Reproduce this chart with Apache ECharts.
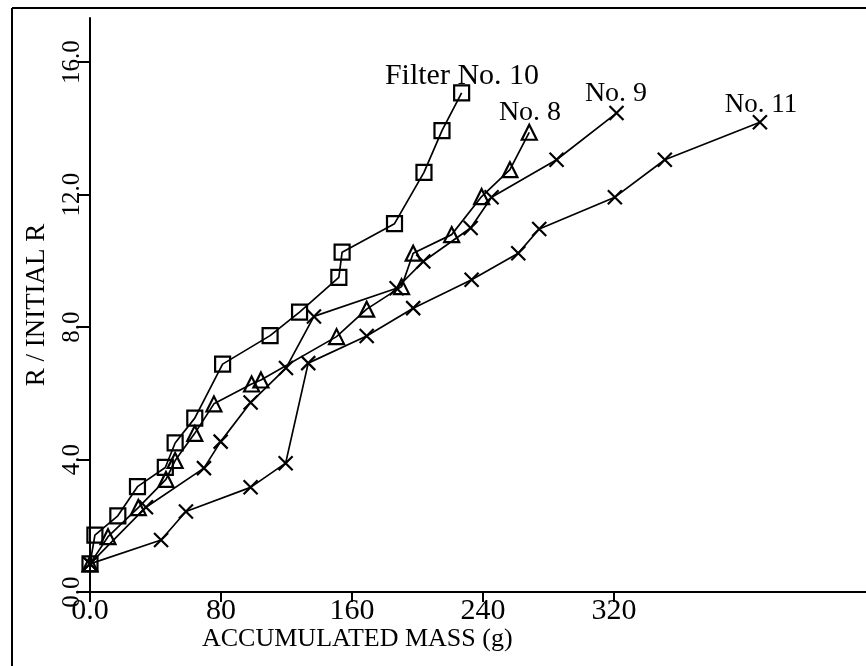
<!DOCTYPE html>
<html><head><meta charset="utf-8">
<script src="https://cdn.jsdelivr.net/npm/echarts@6/dist/echarts.min.js"></script>
<style>html,body{margin:0;padding:0;background:#fff}#c{width:866px;height:666px}</style>
</head><body><div id="c"></div>
<script>
var xTickValues = [0, 80, 160, 240, 320];
var xTicks = ['0.0', '80', '160', '240', '320'];
var yTickValues = [0, 4, 8, 12, 16];
var yTicks = ['0.0', '4.0', '8.0', '12.0', '16.0'];

var massNo10 = [0, 3, 17, 29, 46, 52, 64, 81, 110, 128, 152, 154, 186, 204, 215, 227];
var rNo10 = [0.85, 1.72, 2.3, 3.18, 3.76, 4.5, 5.25, 6.88, 7.74, 8.45, 9.5, 10.26, 11.12, 12.67, 13.93, 15.07];

var massNo8 = [0, 11, 29.5, 46.4, 52, 64, 75.7, 98.7, 104.4, 150.6, 169, 190.3, 197.4, 220.9, 239.2, 256.5, 268.3];
var rNo8 = [0.85, 1.67, 2.55, 3.4, 3.97, 4.79, 5.68, 6.28, 6.4, 7.71, 8.54, 9.22, 10.23, 10.79, 11.94, 12.75, 13.88];

var massNo9 = [0, 34.2, 69.6, 79.8, 98.1, 119.7, 136.8, 187.3, 203.6, 232.5, 245.3, 285, 321.6];
var rNo9 = [0.85, 2.56, 3.74, 4.54, 5.72, 6.76, 8.32, 9.17, 9.98, 10.99, 11.92, 13.05, 14.46];

var massNo11 = [0, 43.4, 58.6, 98.1, 119.5, 133.3, 169, 197.4, 233.1, 261.6, 274.4, 320.6, 351.1, 409.2];
var rNo11 = [0.85, 1.57, 2.43, 3.16, 3.89, 6.91, 7.73, 8.57, 9.43, 10.23, 10.96, 11.92, 13.05, 14.18];

var seriesNames = ['Filter No. 10', 'No. 8', 'No. 9', 'No. 11'];

function pairs(xs, ys) { return xs.map(function (x, i) { return [x, ys[i]]; }); }

var FONT = 'Liberation Serif';
var crossPath = 'path://M0,0L10,10M10,0L0,10';

function mkSeries(name, xs, ys, symbol, size) {
  return {
    name: name, type: 'line', data: pairs(xs, ys),
    symbol: symbol, symbolSize: size, showAllSymbol: true,
    lineStyle: { color: '#000', width: 1.7 },
    itemStyle: { color: 'rgba(0,0,0,0)', borderColor: '#000', borderWidth: 2.2 },
    emphasis: { disabled: true }, animation: false, z: 3
  };
}

function label(text, x, y, size) {
  return { type: 'text', x: x, y: y, z: 10,
    style: { text: text, fill: '#000', font: size + 'px "Liberation Serif"', align: 'center', verticalAlign: 'middle' } };
}

var chart = echarts.init(document.getElementById('c'), null, { renderer: 'canvas' });
chart.setOption({
  backgroundColor: '#fff',
  animation: false,
  grid: { left: 90, top: 18, width: 776, height: 574, containLabel: false },
  xAxis: {
    type: 'value', min: 0, max: 474,
    axisLine: { show: true, onZero: false, lineStyle: { color: '#000', width: 2 } },
    axisTick: { show: true, inside: false, length: 10, customValues: xTickValues, lineStyle: { color: '#000', width: 2 } },
    splitLine: { show: false },
    axisLabel: {
      color: '#000', fontFamily: FONT, fontSize: 30, margin: 4, customValues: xTickValues,
      formatter: function (v) { var i = xTickValues.indexOf(v); return i >= 0 ? xTicks[i] : ''; }
    },
    name: 'ACCUMULATED MASS (g)', nameLocation: 'start', nameGap: 0,
    nameTextStyle: { color: '#000', fontFamily: FONT, fontSize: 26, align: 'left', verticalAlign: 'top', padding: [34, 0, 0, 112] }
  },
  yAxis: {
    type: 'value', min: 0, max: 17.33,
    axisLine: { show: true, onZero: false, lineStyle: { color: '#000', width: 2 } },
    axisTick: { show: true, inside: false, length: 12, customValues: yTickValues, lineStyle: { color: '#000', width: 2 } },
    splitLine: { show: false },
    axisLabel: {
      color: '#000', fontFamily: FONT, fontSize: 25, margin: 5, rotate: 90, customValues: yTickValues,
      formatter: function (v) { var i = yTickValues.indexOf(v); return i >= 0 ? yTicks[i] : ''; }
    },
    name: 'R / INITIAL R', nameLocation: 'middle', nameGap: 40, nameRotate: 90,
    nameTextStyle: { color: '#000', fontFamily: FONT, fontSize: 27 }
  },
  series: [
    mkSeries(seriesNames[0], massNo10, rNo10, 'rect', 15),
    mkSeries(seriesNames[1], massNo8, rNo8, 'triangle', 15),
    mkSeries(seriesNames[2], massNo9, rNo9, crossPath, 14),
    mkSeries(seriesNames[3], massNo11, rNo11, crossPath, 14)
  ],
  graphic: [
    { type: 'line', shape: { x1: 12, y1: 8, x2: 12, y2: 666 }, style: { stroke: '#000', lineWidth: 2 } },
    { type: 'line', shape: { x1: 12, y1: 8, x2: 866, y2: 8 }, style: { stroke: '#000', lineWidth: 2 } },
    label(seriesNames[0], 462, 76, 30),
    label(seriesNames[1], 530, 113, 28),
    label(seriesNames[2], 616, 94, 28),
    label(seriesNames[3], 761, 105, 27)
  ]
});
</script>
</body></html>
